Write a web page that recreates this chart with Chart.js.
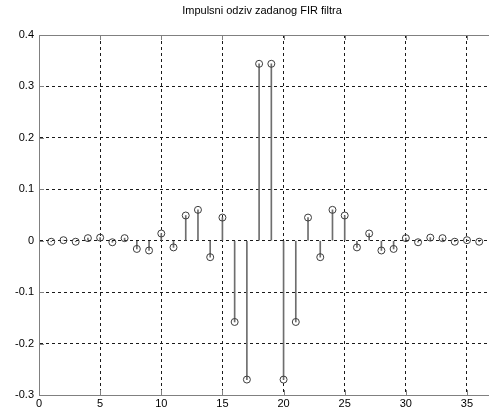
<!DOCTYPE html>
<html>
<head>
<meta charset="utf-8">
<script src="https://cdn.jsdelivr.net/npm/chart.js@4/dist/chart.umd.min.js"></script>
<style>
  html, body { margin: 0; padding: 0; background: #fff; }
  #wrap { width: 489px; height: 410px; }
</style>
</head>
<body>
<div id="wrap"><canvas id="stemChart"></canvas></div>
<script>
// impulse response samples h(n), n = 1..36 (symmetric FIR)
const sampleIdx = [1, 2, 3, 4, 5, 6, 7, 8, 9, 10, 11, 12, 13, 14, 15, 16, 17, 18,
                   19, 20, 21, 22, 23, 24, 25, 26, 27, 28, 29, 30, 31, 32, 33, 34, 35, 36];
const impulse = [-0.002, 0.001, -0.002, 0.005, 0.006, -0.003, 0.005, -0.016, -0.019,
                 0.014, -0.013, 0.049, 0.060, -0.032, 0.045, -0.158, -0.270, 0.344,
                 0.344, -0.270, -0.158, 0.045, -0.032, 0.060, 0.049, -0.013, 0.014,
                 -0.019, -0.016, 0.005, -0.003, 0.006, 0.005, -0.002, 0.001, -0.002];
const xTicks = [0, 5, 10, 15, 20, 25, 30, 35];
const yTicks = [-0.3, -0.2, -0.1, 0, 0.1, 0.2, 0.3, 0.4];
const chartTitle = 'Impulsni odziv zadanog FIR filtra';

const points = sampleIdx.map((n, i) => ({ x: n, y: impulse[i] }));
const FONT = { family: '"Liberation Sans", Arial, sans-serif', size: 11 };

// title, top frame line and inward tick marks
const frame = {
  id: 'frame',
  afterDraw(chart) {
    const { ctx, chartArea: a, scales } = chart;
    ctx.save();
    ctx.strokeStyle = '#808080';
    ctx.lineWidth = 1;
    ctx.beginPath();
    ctx.moveTo(a.left, a.top + 0.5);
    ctx.lineTo(a.right, a.top + 0.5);
    xTicks.forEach(v => {
      const px = Math.round(scales.x.getPixelForValue(v)) + 0.5;
      ctx.moveTo(px, a.bottom); ctx.lineTo(px, a.bottom - 5);
      ctx.moveTo(px, a.top); ctx.lineTo(px, a.top + 5);
    });
    yTicks.forEach(v => {
      const py = Math.round(scales.y.getPixelForValue(v)) + 0.5;
      ctx.moveTo(a.left, py); ctx.lineTo(a.left + 5, py);
    });
    ctx.stroke();

    ctx.fillStyle = '#000';
    ctx.font = FONT.size + 'px ' + FONT.family;
    ctx.textAlign = 'center';
    ctx.textBaseline = 'middle';
    ctx.fillText(chartTitle, 262, 11);
    ctx.restore();
  }
};

new Chart(document.getElementById('stemChart'), {
  type: 'scatter',
  data: {
    datasets: [
      {
        type: 'bar',
        data: points,
        backgroundColor: '#6e6e6e',
        barThickness: 1,
        order: 2
      },
      {
        type: 'scatter',
        data: points,
        pointStyle: 'circle',
        pointRadius: 3.5,
        pointBorderWidth: 1,
        pointBorderColor: '#3c3c3c',
        pointBackgroundColor: 'rgba(255,255,255,0)',
        order: 1
      }
    ]
  },
  options: {
    responsive: true,
    maintainAspectRatio: false,
    animation: false,
    layout: { autoPadding: false, padding: { top: 35, right: 0, left: 0, bottom: 0 } },
    plugins: {
      legend: { display: false },
      tooltip: { enabled: false }
    },
    scales: {
      x: {
        type: 'linear',
        min: 0,
        max: 36.8,
        offset: false,
        afterBuildTicks: s => { s.ticks = xTicks.map(v => ({ value: v })); },
        afterFit: s => { s.height = 15; },
        ticks: { color: '#000', font: FONT, padding: 2, maxRotation: 0 },
        grid: { offset: false, color: '#1a1a1a', lineWidth: 1, drawTicks: false },
        border: { color: '#808080', width: 1, dash: [3, 3] }
      },
      y: {
        min: -0.3,
        max: 0.4,
        afterBuildTicks: s => { s.ticks = yTicks.map(v => ({ value: v })); },
        afterFit: s => { s.width = 39; },
        ticks: {
          color: '#000',
          font: FONT,
          padding: 5,
          callback: v => (Math.abs(v) < 1e-9 ? '0' : v.toFixed(1))
        },
        grid: { color: '#1a1a1a', lineWidth: 1, drawTicks: false },
        border: { color: '#808080', width: 1, dash: [3, 3] }
      }
    }
  },
  plugins: [frame]
});
</script>
</body>
</html>
